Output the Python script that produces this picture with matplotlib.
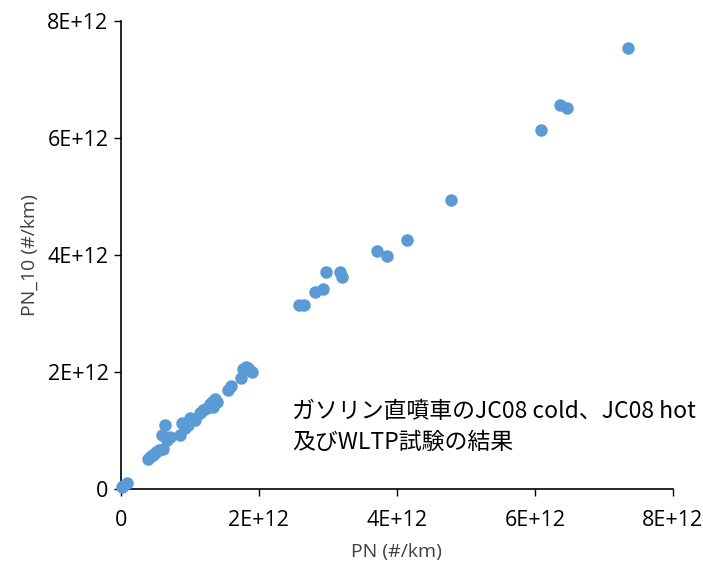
import numpy as np
from matplotlib import pyplot as plt

plt.rcParams['font.family'] = ['Noto Sans CJK JP', 'DejaVu Sans']

# PN vs PN_10 (units of 1E12 #/km)
pn = [0.01, 0.03, 0.09, 0.39, 0.43, 0.46, 0.51, 0.55, 0.61, 0.59, 0.64, 0.67, 0.71,
      0.86, 0.88, 0.93, 0.97, 1.00, 1.07, 1.14, 1.19, 1.25, 1.29, 1.32, 1.33, 1.39,
      1.36, 1.55, 1.59, 1.74, 1.77, 1.81, 1.84, 1.90,
      2.58, 2.65, 2.81, 2.93, 2.97, 3.17, 3.20, 3.71, 3.86, 4.14, 4.78, 6.09, 6.36,
      6.46, 7.35]
pn10 = [0.03, 0.05, 0.10, 0.51, 0.56, 0.58, 0.63, 0.67, 0.68, 0.92, 1.09, 0.84, 0.89,
        0.92, 1.13, 1.04, 1.09, 1.21, 1.18, 1.30, 1.35, 1.38, 1.45, 1.49, 1.40, 1.49,
        1.54, 1.69, 1.76, 1.90, 2.05, 2.09, 2.07, 2.00,
        3.15, 3.15, 3.37, 3.42, 3.71, 3.71, 3.62, 4.07, 3.98, 4.26, 4.94, 6.14, 6.56,
        6.51, 7.54]
ticks = [0, 2, 4, 6, 8]
tick_labels = ["0", "2E+12", "4E+12", "6E+12", "8E+12"]

fig = plt.figure(figsize=(7.03, 5.67), dpi=100)
ax = fig.add_axes([0.172, 0.1376, 0.785, 0.8254])

ax.scatter(pn, pn10, s=64, color='#5B9BD5', zorder=3, clip_on=False)

ax.set_xlim(0, 8)
ax.set_ylim(0, 8)
ax.set_xticks(ticks)
ax.set_xticklabels(tick_labels, family=['Open Sans', 'DejaVu Sans'])
ax.set_yticks(ticks)
ax.set_yticklabels(tick_labels, family=['Open Sans', 'DejaVu Sans'])
ax.tick_params(labelsize=15.5, length=5, width=1, colors='black', pad=4)
ax.tick_params(axis='x', pad=10)
for s in ['top', 'right']:
    ax.spines[s].set_visible(False)
for s in ['left', 'bottom']:
    ax.spines[s].set_linewidth(1.2)

ax.set_xlabel("PN (#/km)", fontsize=14, color='#404040', labelpad=9,
              family=['Open Sans', 'DejaVu Sans'])
ax.set_ylabel("PN_10 (#/km)", fontsize=14, color='#404040', labelpad=6,
              family=['Open Sans', 'DejaVu Sans'])

ax.text(0.31, 0.132, "ガソリン直噴車のJC08 cold、JC08 hot\n及びWLTP試験の結果",
        transform=ax.transAxes, fontsize=16.5, va='center', ha='left', linespacing=1.45)

fig.savefig("out.png", dpi=100)
